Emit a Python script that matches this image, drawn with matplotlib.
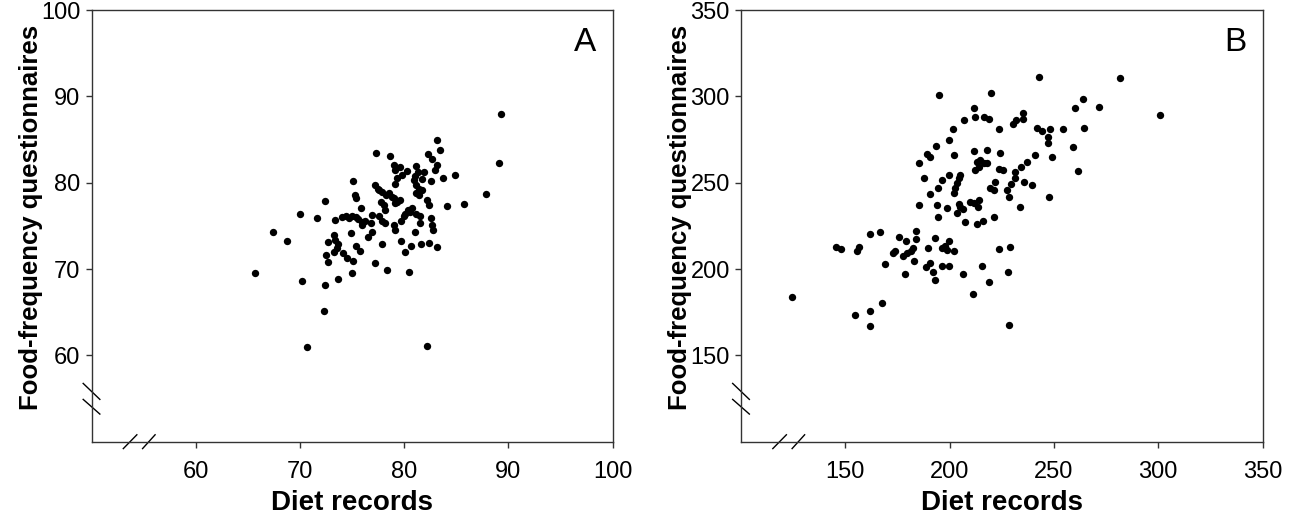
import matplotlib
matplotlib.use('Agg')
import matplotlib.pyplot as plt

plt.rcParams['font.family'] = ['Liberation Sans', 'DejaVu Sans']

# panel A (energy-adjusted values, units as in the source figure)
diet_a = [89.3, 89.1, 87.9, 85.7, 84.9, 84.1, 83.7, 83.2, 83.4, 82.3,
          82.7, 83.2, 83.0, 82.6, 81.9, 81.7, 81.3, 81.1, 81.0, 80.9,
          80.3, 79.8, 79.6, 79.0, 79.1, 78.6, 77.3, 79.3, 79.1, 75.1,
          77.2, 77.5, 77.6, 77.9, 78.3, 78.5, 78.8, 79.0, 79.3, 79.6,
          79.1, 81.1, 81.4, 81.7, 81.1, 81.4, 75.3, 75.4, 72.4, 82.2,
          82.4, 77.8, 78.1, 78.2, 75.9, 80.8, 80.4, 80.6, 80.1, 80.0,
          79.7, 70.0, 71.6, 73.4, 74.0, 74.4, 74.7, 75.0, 75.4, 75.6,
          76.0, 76.9, 76.2, 76.0, 77.6, 77.9, 78.2, 81.5, 81.1, 82.6,
          82.7, 82.8, 81.5, 79.0, 79.1, 76.8, 76.9, 76.5, 74.9, 81.0,
          67.4, 68.8, 73.3, 73.4, 72.7, 73.7, 73.6, 73.3, 72.5, 72.7,
          74.1, 74.5, 75.1, 75.4, 75.8, 77.9, 79.7, 80.7, 81.6, 82.4,
          83.2, 80.1, 77.2, 78.4, 80.5, 75.0, 65.7, 73.7, 70.2, 72.4,
          72.3, 70.7, 82.2]
ffq_a = [88.0, 82.3, 78.7, 77.5, 80.9, 77.3, 80.5, 84.9, 83.8, 83.3,
         82.8, 82.0, 81.5, 80.2, 81.3, 80.4, 81.3, 81.9, 80.8, 80.3,
         81.4, 80.9, 81.8, 82.0, 81.5, 83.1, 83.5, 80.5, 79.8, 80.2,
         79.7, 79.3, 79.1, 78.9, 78.6, 78.8, 78.4, 78.2, 77.8, 78.0,
         77.6, 79.7, 79.3, 79.1, 78.8, 78.6, 78.6, 78.2, 77.9, 78.0,
         77.4, 77.8, 77.4, 76.8, 77.1, 77.1, 76.8, 76.6, 76.4, 76.1,
         75.6, 76.4, 75.9, 75.7, 76.0, 76.1, 75.9, 76.1, 76.0, 75.8,
         75.5, 76.3, 75.6, 75.1, 76.1, 75.6, 75.3, 76.2, 76.4, 75.9,
         75.1, 74.5, 75.3, 75.1, 74.5, 75.3, 74.3, 73.7, 74.2, 74.3,
         74.3, 73.3, 73.9, 73.4, 73.1, 72.9, 72.4, 72.0, 71.6, 70.8,
         71.9, 71.3, 70.9, 72.7, 72.1, 72.9, 73.3, 72.7, 72.9, 73.0,
         72.5, 72.0, 70.7, 69.9, 69.7, 69.5, 69.5, 68.9, 68.6, 68.1,
         65.1, 61.0, 61.1]

# panel B
diet_b = [242.7, 281.5, 194.7, 219.8, 263.9, 260.3, 271.4, 211.5, 212.3, 216.3,
          218.7, 206.7, 235.0, 235.0, 231.8, 230.2, 223.5, 201.4, 241.9, 244.3,
          248.3, 254.3, 264.6, 247.0, 247.0, 199.5, 193.6, 189.1, 190.4, 185.1,
          202.2, 211.5, 217.9, 224.3, 259.1, 249.1, 240.7, 213.1, 214.7, 216.3,
          217.9, 213.9, 212.3, 223.8, 225.5, 237.1, 234.2, 231.5, 199.6, 205.1,
          204.3, 203.5, 202.7, 201.9, 187.5, 196.3, 194.2, 231.5, 229.4, 227.5,
          235.5, 239.5, 221.9, 219.5, 221.5, 228.6, 261.5, 247.5, 190.7, 185.4,
          193.9, 198.7, 204.3, 205.1, 206.3, 209.9, 211.5, 213.9, 213.4, 194.2,
          203.5, 207.5, 213.1, 215.9, 221.4, 233.9, 166.7, 161.9, 184.0, 175.8,
          179.2, 183.8, 193.1, 199.5, 197.6, 196.3, 198.7, 202.2, 189.6, 182.4,
          181.6, 179.5, 177.6, 173.9, 172.8, 145.4, 148.0, 156.6, 155.8, 169.1,
          183.0, 190.7, 188.8, 191.8, 196.3, 199.5, 178.7, 192.8, 206.2, 215.3,
          223.5, 229.1, 227.9, 219.0, 211.1, 124.6, 167.5, 154.5, 161.6, 161.6,
          228.3, 300.7]
ffq_b = [311.4, 310.4, 300.8, 301.7, 298.5, 293.1, 294.0, 293.1, 288.2, 287.8,
         286.7, 286.3, 290.5, 286.9, 286.3, 284.0, 281.1, 281.1, 281.5, 280.1,
         280.9, 280.9, 281.5, 276.7, 272.8, 274.5, 271.0, 266.6, 264.7, 261.6,
         265.8, 268.4, 268.9, 267.0, 270.7, 264.9, 266.2, 262.2, 263.1, 261.6,
         261.2, 259.3, 257.4, 257.7, 257.4, 262.2, 258.9, 256.4, 254.5, 254.5,
         252.5, 249.6, 246.7, 244.2, 252.5, 251.6, 247.1, 252.5, 249.0, 245.8,
         250.2, 248.9, 250.6, 246.7, 245.8, 241.9, 256.8, 241.9, 243.3, 237.1,
         237.1, 235.2, 237.7, 236.1, 234.8, 239.0, 238.1, 240.0, 236.1, 230.3,
         232.3, 227.4, 225.9, 228.0, 229.9, 236.1, 221.6, 220.1, 222.2, 218.8,
         216.2, 217.2, 217.8, 216.2, 213.4, 212.0, 211.0, 210.4, 212.4, 212.0,
         210.6, 209.1, 207.8, 210.6, 209.1, 213.0, 211.6, 212.6, 210.6, 202.9,
         204.9, 203.3, 201.4, 198.5, 202.0, 202.0, 197.1, 193.5, 197.1, 202.0,
         211.6, 213.0, 198.5, 192.7, 185.5, 184.0, 180.5, 173.2, 175.5, 167.0,
         167.6, 289.2]

ticks_a = [60, 70, 80, 90, 100]
ticks_b = [150, 200, 250, 300, 350]


def draw_panel(ax, x, y, lo, hi, ticks, letter):
    ax.scatter(x, y, s=28, color='black', linewidths=0, zorder=3)
    ax.set_xlim(lo, hi)
    ax.set_ylim(lo, hi)
    ax.set_xticks(ticks)
    ax.set_yticks(ticks)
    ax.tick_params(direction='out', length=4, width=1, labelsize=17, color='#333333')
    ax.tick_params(axis='x', pad=10)
    ax.tick_params(axis='y', pad=4)
    for sp in ax.spines.values():
        sp.set_linewidth(1.0)
        sp.set_color('#333333')
    ax.set_xlabel('Diet records', fontsize=20, fontweight='bold', labelpad=5)
    ax.set_ylabel('Food-frequency questionnaires', fontsize=18.5, fontweight='bold')
    ax.yaxis.set_label_coords(-0.093, 0.52)
    ax.text(0.947, 0.925, letter, transform=ax.transAxes, fontsize=24,
            ha='center', va='center')
    # axis break marks
    kw = dict(transform=ax.transAxes, clip_on=False, color='black', lw=1.0)
    ax.plot([-0.016, 0.016], [0.135, 0.098], **kw)
    ax.plot([-0.016, 0.016], [0.098, 0.064], **kw)
    ax.plot([0.061, 0.087], [-0.016, 0.016], **kw)
    ax.plot([0.098, 0.122], [-0.016, 0.016], **kw)


fig = plt.figure(figsize=(13, 5.2), dpi=100)
ax1 = fig.add_axes([0.0704, 0.1506, 0.4008, 0.830])
ax2 = fig.add_axes([0.570, 0.1506, 0.4012, 0.830])

draw_panel(ax1, diet_a, ffq_a, 50, 100, ticks_a, 'A')
draw_panel(ax2, diet_b, ffq_b, 100, 350, ticks_b, 'B')

fig.savefig('out.png', dpi=100)
